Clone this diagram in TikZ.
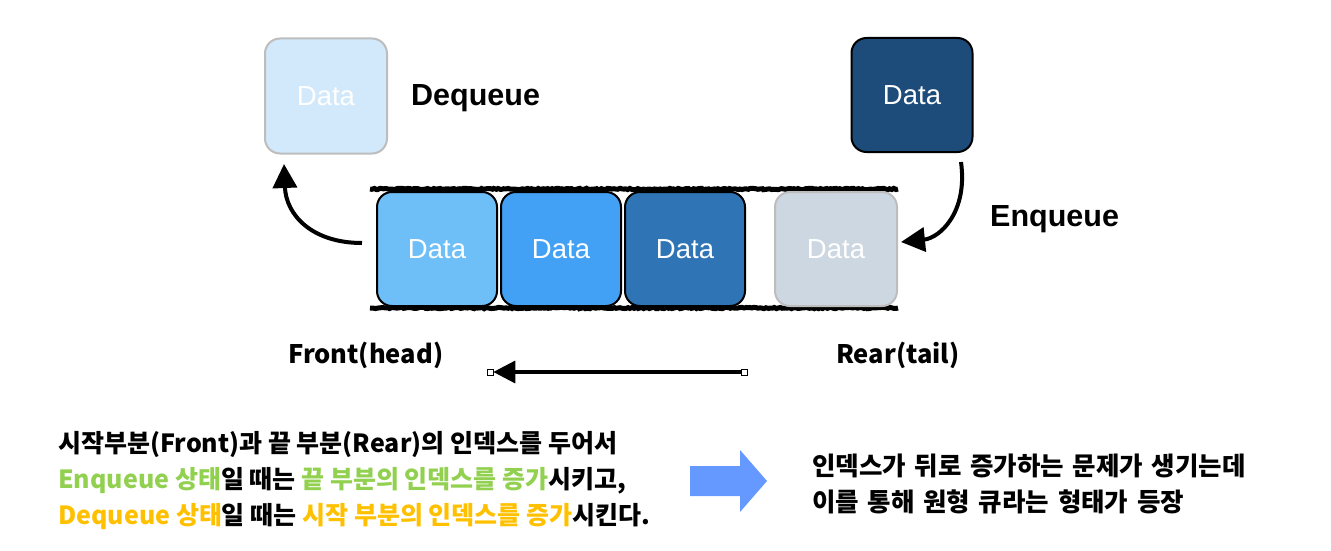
\documentclass[tikz,border=0pt]{standalone}
\usepackage{fontspec}
\newfontfamily\kr{Noto Sans CJK KR}
\newfontfamily\hv{Liberation Sans}
\usetikzlibrary{arrows.meta,decorations.pathmorphing}
\definecolor{ghostfill}{HTML}{D2E9FB}
\definecolor{ghostline}{HTML}{BDBDBD}
\definecolor{enqfill}{HTML}{1E4C7A}
\definecolor{qa}{HTML}{6EBEF7}
\definecolor{qb}{HTML}{42A0F5}
\definecolor{qc}{HTML}{2F74B5}
\definecolor{qd}{HTML}{CDD7E1}
\definecolor{grn}{HTML}{92D050}
\definecolor{ylw}{HTML}{FFC000}
\definecolor{bluearrow}{HTML}{6699FF}
\newcommand\mywidespaces{\spaceskip 0.34em\relax}
\tikzset{
  rough/.style={decorate,decoration={random steps,segment length=2pt,amplitude=0.7pt}},
  databox/.style={rounded corners=15pt,minimum width=120pt,minimum height=114pt,
    line width=2pt,inner sep=0pt,text=white,
    font=\hv\fontsize{27.5}{30}\selectfont},
  darkedge/.style={draw=black},
  lightedge/.style={draw=ghostline},
  rail/.style={rough,line width=5pt,line cap=butt},
  sketcharrow/.style={line width=4pt,-{Triangle[length=24pt,width=24pt]}},
  label/.style={font=\hv\bfseries\fontsize{30.5}{34}\selectfont,inner sep=0pt},
  handlabel/.style={font=\kr\bfseries\fontsize{25.5}{28}\selectfont,inner sep=0pt},
  bodytext/.style={font=\kr\bfseries\fontsize{25}{37}\selectfont,inner sep=0pt,align=left,anchor=west},
  bodytextr/.style={bodytext,font=\kr\bfseries\fontsize{25.5}{37}\selectfont},
  handle/.style={draw=black,fill=white,line width=0.6pt,minimum size=6pt,inner sep=0pt}
}
\begin{document}
\begin{tikzpicture}[x=1pt,y=-1pt]
\useasboundingbox (0,0) rectangle (1331,551);
% top boxes
\node[databox,lightedge,fill=ghostfill,minimum width=122pt,minimum height=115pt] (ghost) at (326,96) {Data};
\node[label,anchor=west] (deqlbl) at (411,98) {Dequeue};
\node[databox,darkedge,fill=enqfill,minimum width=121pt,minimum height=114pt] (newd) at (912,95) {Data};
\node[label,anchor=west] (enqlbl) at (990,219) {Enqueue};
% rails
\coordinate (rtl) at (370,189);
\coordinate (rtr) at (898,189);
\coordinate (rbl) at (370,308);
\coordinate (rbr) at (898,308);
\draw[rail] (rtl) -- (rtr);
\draw[rail] (rbl) -- (rbr);
% queue boxes
\node[databox,darkedge,fill=qa] (d1) at (437,249) {Data};
\node[databox,darkedge,fill=qb] (d2) at (561,249) {Data};
\node[databox,darkedge,fill=qc] (d3) at (685,249) {Data};
\node[databox,lightedge,fill=qd,minimum width=122pt] (d4) at (836,249) {Data};
% dequeue arrow
\coordinate (deqs) at (362,243);
\coordinate (deqe) at (284,164);
\draw[sketcharrow] (deqs) .. controls (312,243) and (286,215) .. (deqe);
% enqueue arrow
\coordinate (enqs) at (961,162);
\coordinate (enqe) at (901,242);
\draw[sketcharrow] (enqs) .. controls (968,212) and (940,238) .. (enqe);
% labels
\node[handlabel,anchor=west] (front) at (288,355) {Front(head)};
\node[handlabel,anchor=west] (rear) at (836,355) {Rear(tail)};
% bottom arrow
\node[handle] (hr) at (744,372) {};
\node[handle] (hl) at (490,372) {};
\draw[line width=3.5pt,-{Triangle[length=22pt,width=22pt]}] (hr.west) -- (hl.east);
% explanation text
\node[bodytext] (t1) at (58,444) {시작부분(Front)과 끝 부분(Rear)의 인덱스를 두어서};
\node[bodytext] (t2) at (58,481) {{\color{grn}Enqueue 상태}일 때는 {\color{grn}끝 부분의 인덱스를 증가}시키고,};
\node[bodytext] (t3) at (58,517) {{\color{ylw}Dequeue 상태}일 때는 {\color{ylw}시작 부분의 인덱스를 증가}시킨다.};
% block arrow
\fill[bluearrow] (690,466) -- (740,466) -- (740,450) -- (767,481) -- (740,512) -- (740,496) -- (690,496) -- cycle;
\node[bodytextr] (r1) at (812,466) {\mywidespaces 인덱스가 뒤로 증가하는 문제가 생기는데};
\node[bodytextr] (r2) at (812,502) {\mywidespaces 이를 통해 원형 큐라는 형태가 등장};
\end{tikzpicture}
\end{document}
